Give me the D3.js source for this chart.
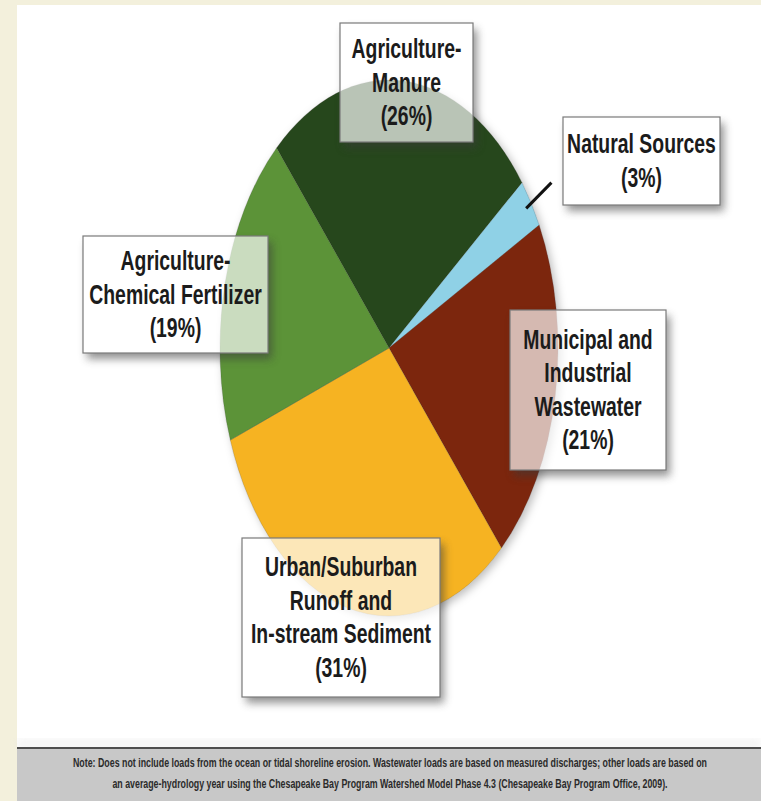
<!DOCTYPE html>
<html lang="en">
<head>
    <meta charset="UTF-8">
    <title>Nitrogen Loads by Source</title>
    <script src="https://d3js.org/d3.v7.min.js"></script>
    <style>
        html, body {
            margin: 0;
            padding: 0;
            background: #f3f0dc;
        }
        svg {
            display: block;
        }
        .lbl {
            font-family: 'Liberation Sans Narrow', 'Liberation Sans', 'DejaVu Sans', sans-serif;
            font-weight: bold;
            font-size: 27px;
            fill: #1b1b1b;
        }
        .note {
            font-family: 'Liberation Sans Narrow', 'Liberation Sans', sans-serif;
            font-weight: bold;
            font-size: 13.5px;
            fill: #2b2b2b;
        }
    </style>
</head>
<body>
<div id="chart"></div>
<script>
    // data
    var categories = ["Agriculture-Manure", "Natural Sources", "Municipal and Industrial Wastewater",
        "Urban/Suburban Runoff and In-stream Sediment", "Agriculture-Chemical Fertilizer"];
    var shares = [26, 3, 21, 31, 19];
    var labelLines = [
        ["Agriculture-", "Manure", "(26%)"],
        ["Natural Sources", "(3%)"],
        ["Municipal and", "Industrial", "Wastewater", "(21%)"],
        ["Urban/Suburban", "Runoff and", "In-stream Sediment", "(31%)"],
        ["Agriculture-", "Chemical Fertilizer", "(19%)"]
    ];
    var noteLines = [
        "Note: Does not include loads from the ocean or tidal shoreline erosion. Wastewater loads are based on measured discharges; other loads are based on",
        "an average-hydrology year using the Chesapeake Bay Program Watershed Model Phase 4.3 (Chesapeake Bay Program Office, 2009)."
    ];

    // styling / layout
    var colors = ["#27461c", "#8fd1e6", "#7b2711", "#f6b322", "#5b9338"];
    var boxes = [ // x0, y0, x1, y1 for each label box
        [340, 23, 473, 142],
        [563, 117, 720, 205],
        [510, 310, 666, 470],
        [242, 538, 440, 697],
        [83, 236, 268, 353]
    ];
    var W = 761, H = 801;
    var cx = 389, cy = 348, rx = 169, ry = 268;
    var startDeg = -41.7;
    var lineH = 33.5;

    var svg = d3.select("#chart").append("svg")
        .attr("width", W)
        .attr("height", H);

    var defs = svg.append("defs");
    var blur = defs.append("filter").attr("id", "blur")
        .attr("x", "-20%").attr("y", "-20%").attr("width", "140%").attr("height", "140%");
    blur.append("feGaussianBlur").attr("stdDeviation", 4);
    var pieShadow = defs.append("filter").attr("id", "pieShadow")
        .attr("x", "-10%").attr("y", "-10%").attr("width", "120%").attr("height", "120%");
    pieShadow.append("feDropShadow")
        .attr("dx", 3).attr("dy", 3).attr("stdDeviation", 4)
        .attr("flood-color", "#000").attr("flood-opacity", 0.25);

    // white panel
    svg.append("rect")
        .attr("x", 17).attr("y", 5)
        .attr("width", W - 17).attr("height", H - 5)
        .attr("fill", "#ffffff");

    // pie (stretched vertically into an ellipse)
    var pie = d3.pie().sort(null).value(d => d)
        .startAngle(startDeg * Math.PI / 180)
        .endAngle(startDeg * Math.PI / 180 + 2 * Math.PI);
    var arcs = pie(shares);
    var arc = d3.arc().innerRadius(0).outerRadius(rx);

    var pieG = svg.append("g")
        .attr("filter", "url(#pieShadow)")
        .append("g")
        .attr("transform", "translate(" + cx + "," + cy + ") scale(1," + (ry / rx) + ")");

    pieG.selectAll("path.slice")
        .data(arcs)
        .enter().append("path")
        .attr("class", "slice")
        .attr("d", arc)
        .attr("fill", (d, i) => colors[i])
        .attr("stroke", "#2b2b2b")
        .attr("stroke-opacity", 0.3)
        .attr("stroke-width", 0.6)
        .attr("vector-effect", "non-scaling-stroke");

    // leader line for the small slice
    var sy = ry / rx;
    var innerPt = d3.arc().innerRadius(163).outerRadius(163).centroid(arcs[1]);
    var outerPt = d3.arc().innerRadius(193).outerRadius(193).centroid(arcs[1]);
    svg.append("line")
        .attr("x1", cx + innerPt[0]).attr("y1", cy + innerPt[1] * sy)
        .attr("x2", cx + outerPt[0]).attr("y2", cy + outerPt[1] * sy)
        .attr("stroke", "#111")
        .attr("stroke-width", 3);

    // label boxes: shadow (masked out under the box), translucent box, text
    boxes.forEach(function (b, i) {
        var m = defs.append("mask").attr("id", "m" + i);
        m.append("rect").attr("x", 0).attr("y", 0).attr("width", W).attr("height", H).attr("fill", "#fff");
        m.append("rect").attr("x", b[0]).attr("y", b[1])
            .attr("width", b[2] - b[0]).attr("height", b[3] - b[1]).attr("fill", "#000");
        svg.append("g").attr("mask", "url(#m" + i + ")")
            .append("rect")
            .attr("x", b[0] + 4).attr("y", b[1] + 6)
            .attr("width", b[2] - b[0]).attr("height", b[3] - b[1])
            .attr("fill", "#3a3a3a")
            .attr("opacity", 0.55)
            .attr("filter", "url(#blur)");
    });

    var boxG = svg.selectAll("g.box")
        .data(labelLines)
        .enter().append("g")
        .attr("class", "box");

    boxG.append("rect")
        .attr("x", (d, i) => boxes[i][0])
        .attr("y", (d, i) => boxes[i][1])
        .attr("width", (d, i) => boxes[i][2] - boxes[i][0])
        .attr("height", (d, i) => boxes[i][3] - boxes[i][1])
        .attr("fill", "#ffffff")
        .attr("fill-opacity", 0.68)
        .attr("stroke", "#7a7a7a")
        .attr("stroke-width", 1.2);

    // measure to squeeze the text into the narrow look of the original
    var probe = svg.append("text").attr("class", "lbl").text("Agriculture-");
    var sx = 110 / probe.node().getComputedTextLength();
    probe.remove();

    boxG.each(function (lines, i) {
        var b = boxes[i];
        var mx = (b[0] + b[2]) / 2, my = (b[1] + b[3]) / 2;
        var y0 = my - (lines.length - 1) / 2 * lineH + 9;
        d3.select(this).selectAll("text")
            .data(lines)
            .enter().append("text")
            .attr("class", "lbl")
            .attr("text-anchor", "middle")
            .attr("transform", (t, k) => "translate(" + mx + "," + (y0 + k * lineH) + ") scale(" + sx + ",1)")
            .text(t => t);
    });

    // footer note band
    svg.append("rect")
        .attr("x", 17).attr("y", 740)
        .attr("width", W - 17).attr("height", 8)
        .attr("fill", "#e6e6e6")
        .attr("opacity", 0.6)
        .attr("filter", "url(#blur)");
    svg.append("rect")
        .attr("x", 17).attr("y", 748)
        .attr("width", W - 17).attr("height", H - 748)
        .attr("fill", "#c8c8c8");
    svg.append("line")
        .attr("x1", 17).attr("x2", W)
        .attr("y1", 748).attr("y2", 748)
        .attr("stroke", "#4d4d4d")
        .attr("stroke-width", 2);

    // squeeze first note line to its width in the original; same factor for both lines
    var noteG = svg.append("g");
    var notes = noteG.selectAll("text.note")
        .data(noteLines)
        .enter().append("text")
        .attr("class", "note")
        .attr("text-anchor", "middle")
        .text(d => d);
    var nsx = 635 / notes.node().getComputedTextLength();
    notes.attr("transform", (d, i) => "translate(390," + (767 + i * 21) + ") scale(" + nsx + ",1)");
</script>
</body>
</html>
